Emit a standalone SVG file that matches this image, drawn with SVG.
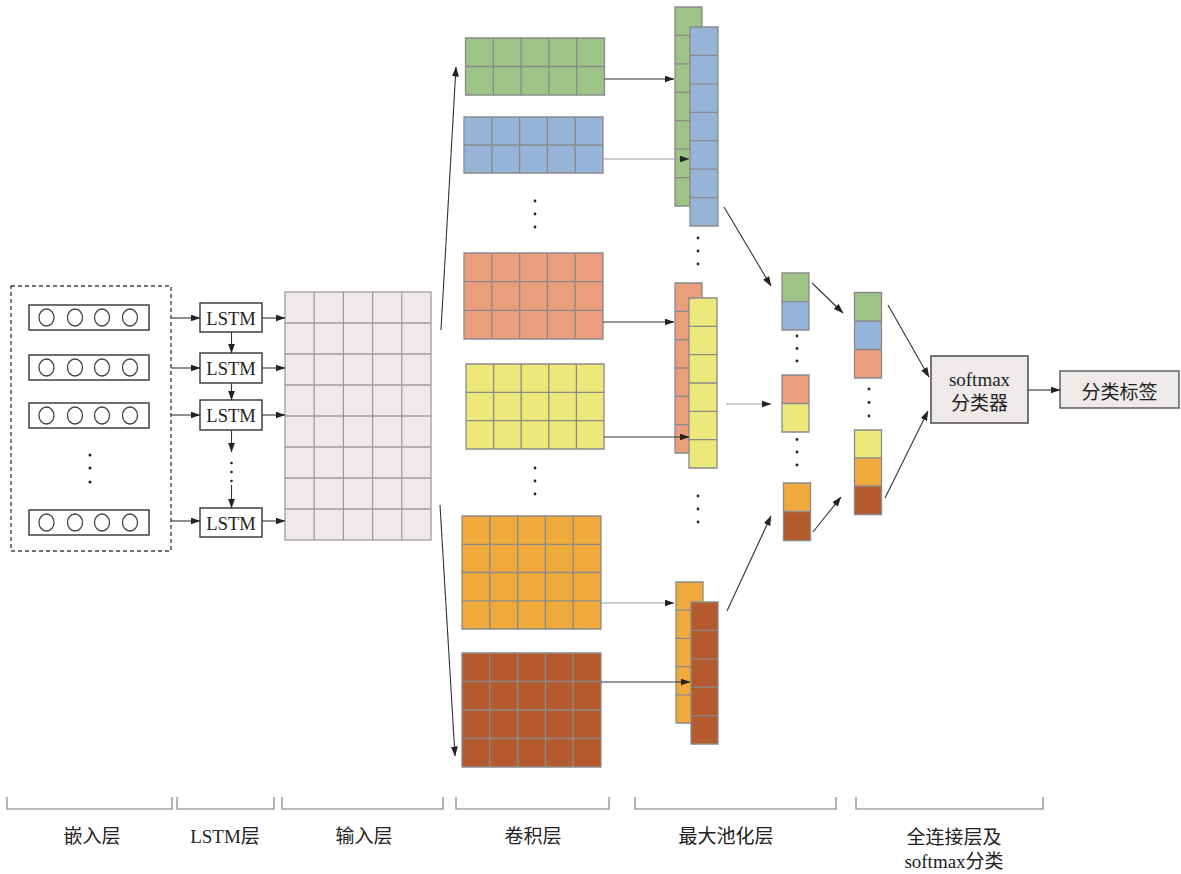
<svg xmlns="http://www.w3.org/2000/svg" width="1181" height="874" viewBox="0 0 1181 874">
<defs>
<marker id="ah" markerUnits="userSpaceOnUse" markerWidth="10" markerHeight="8" refX="9.5" refY="3.5" orient="auto">
<path d="M0,0 L10,3.5 L0,7 z" fill="#222"/>
</marker>
<style>
.t{font-family:"Liberation Serif","Noto Sans CJK SC",serif;fill:#222}
.box{fill:#fff;stroke:#333;stroke-width:1.4}
.circ{fill:#fff;stroke:#444;stroke-width:1.3}
.cl{stroke:#8a8a8a;stroke-width:1.3;fill:none}
.ar{stroke:#333;stroke-width:1.1;fill:none;marker-end:url(#ah)}
.arl{stroke:#999;stroke-width:1.1;fill:none;marker-end:url(#ah)}
.dot{fill:#222}
.g{fill:#9dc386}.b{fill:#95b4d8}.s{fill:#eb9e7c}.y{fill:#ece87a}.o{fill:#f0aa3b}.r{fill:#b55a2c}
.in{fill:#efe9ea;stroke:#a39b9b;stroke-width:1.3}
.brk{stroke:#777;stroke-width:1.1;fill:none}
</style>
</defs>
<rect width="1181" height="874" fill="#fff"/>

<g id="embedding">
<rect x="11" y="286" width="160" height="265" fill="none" stroke="#444" stroke-width="1.4" stroke-dasharray="4,3"/>
<rect class="box" x="29" y="305" width="120" height="25"/>
<ellipse class="circ" cx="46.5" cy="317.5" rx="7.5" ry="8.5"/><ellipse class="circ" cx="75" cy="317.5" rx="7.5" ry="8.5"/><ellipse class="circ" cx="102" cy="317.5" rx="7.5" ry="8.5"/><ellipse class="circ" cx="130" cy="317.5" rx="7.5" ry="8.5"/>
<rect class="box" x="29" y="355" width="120" height="25"/>
<ellipse class="circ" cx="46.5" cy="367.5" rx="7.5" ry="8.5"/><ellipse class="circ" cx="75" cy="367.5" rx="7.5" ry="8.5"/><ellipse class="circ" cx="102" cy="367.5" rx="7.5" ry="8.5"/><ellipse class="circ" cx="130" cy="367.5" rx="7.5" ry="8.5"/>
<rect class="box" x="29" y="403" width="120" height="25"/>
<ellipse class="circ" cx="46.5" cy="415.5" rx="7.5" ry="8.5"/><ellipse class="circ" cx="75" cy="415.5" rx="7.5" ry="8.5"/><ellipse class="circ" cx="102" cy="415.5" rx="7.5" ry="8.5"/><ellipse class="circ" cx="130" cy="415.5" rx="7.5" ry="8.5"/>
<circle class="dot" cx="90" cy="455" r="1.5"/><circle class="dot" cx="90" cy="468" r="1.5"/><circle class="dot" cx="90" cy="482" r="1.5"/>
<rect class="box" x="29" y="510" width="120" height="25"/>
<ellipse class="circ" cx="46.5" cy="522.5" rx="7.5" ry="8.5"/><ellipse class="circ" cx="75" cy="522.5" rx="7.5" ry="8.5"/><ellipse class="circ" cx="102" cy="522.5" rx="7.5" ry="8.5"/><ellipse class="circ" cx="130" cy="522.5" rx="7.5" ry="8.5"/>
</g>

<g id="lstm">
<rect class="box" x="200" y="303" width="62" height="29"/><text class="t" x="231" y="324.5" font-size="18.5" text-anchor="middle">LSTM</text>
<rect class="box" x="200" y="353" width="62" height="30"/><text class="t" x="231" y="374.5" font-size="18.5" text-anchor="middle">LSTM</text>
<rect class="box" x="200" y="400" width="62" height="30"/><text class="t" x="231" y="421.5" font-size="18.5" text-anchor="middle">LSTM</text>
<rect class="box" x="200" y="508" width="62" height="29"/><text class="t" x="231" y="529.5" font-size="18.5" text-anchor="middle">LSTM</text>
<circle class="dot" cx="231.5" cy="463" r="1.3"/><circle class="dot" cx="231.5" cy="472" r="1.3"/><circle class="dot" cx="231.5" cy="481" r="1.3"/>
</g>

<g id="input">
<rect class="in" x="285" y="292" width="146" height="248"/>
<path class="in" fill="none" d="M314.2,292V540M343.4,292V540M372.6,292V540M401.8,292V540M285,323H431M285,354H431M285,385H431M285,416H431M285,447H431M285,478H431M285,509H431"/>
</g>

<g id="conv">
<rect class="g" x="465.5" y="38" width="139" height="57"/>
<path class="cl" d="M465.5,38h139v57h-139zM493.3,38V95M521.1,38V95M548.9,38V95M576.7,38V95M465.5,66.5H604.5"/>
<rect class="b" x="464" y="117" width="139" height="56"/>
<path class="cl" d="M464,117h139v56h-139zM491.8,117V173M519.6,117V173M547.4,117V173M575.2,117V173M464,145H603"/>
<circle class="dot" cx="535" cy="201" r="1.4"/><circle class="dot" cx="535" cy="214" r="1.4"/><circle class="dot" cx="535" cy="227" r="1.4"/>
<rect class="s" x="464" y="253" width="139" height="86"/>
<path class="cl" d="M464,253h139v86h-139zM491.8,253V339M519.6,253V339M547.4,253V339M575.2,253V339M464,281.7H603M464,310.3H603"/>
<rect class="y" x="466" y="364" width="138" height="85"/>
<path class="cl" d="M466,364h138v85h-138zM493.6,364V449M521.2,364V449M548.8,364V449M576.4,364V449M466,392.3H604M466,420.7H604"/>
<circle class="dot" cx="535" cy="468" r="1.4"/><circle class="dot" cx="535" cy="481" r="1.4"/><circle class="dot" cx="535" cy="494" r="1.4"/>
<rect class="o" x="462" y="516" width="139" height="113"/>
<path class="cl" d="M462,516h139v113h-139zM489.8,516V629M517.6,516V629M545.4,516V629M573.2,516V629M462,544.3H601M462,572.5H601M462,600.8H601"/>
<rect class="r" x="462" y="653" width="139" height="114"/>
<path class="cl" d="M462,653h139v114h-139zM489.8,653V767M517.6,653V767M545.4,653V767M573.2,653V767M462,681.5H601M462,710H601M462,738.5H601"/>
</g>

<g id="pooling">
<rect class="g" x="675" y="7" width="27" height="199"/>
<path class="cl" d="M675,7h27v199h-27zM675,35.4h27M675,63.9h27M675,92.3h27M675,120.7h27M675,149.1h27M675,177.6h27"/>
<rect class="b" x="690" y="27" width="28" height="199"/>
<path class="cl" d="M690,27h28v199h-28zM690,55.4h28M690,83.9h28M690,112.3h28M690,140.7h28M690,169.1h28M690,197.6h28"/>
<circle class="dot" cx="698" cy="238" r="1.4"/><circle class="dot" cx="698" cy="251" r="1.4"/><circle class="dot" cx="698" cy="264" r="1.4"/>
<rect class="s" x="675" y="283" width="27" height="170"/>
<path class="cl" d="M675,283h27v170h-27zM675,311.3h27M675,339.7h27M675,368h27M675,396.3h27M675,424.7h27"/>
<rect class="y" x="689" y="298" width="28" height="170"/>
<path class="cl" d="M689,298h28v170h-28zM689,326.3h28M689,354.7h28M689,383h28M689,411.3h28M689,439.7h28"/>
<circle class="dot" cx="698" cy="496" r="1.4"/><circle class="dot" cx="698" cy="509" r="1.4"/><circle class="dot" cx="698" cy="522" r="1.4"/>
<rect class="o" x="676" y="582" width="27" height="141"/>
<path class="cl" d="M676,582h27v141h-27zM676,610.2h27M676,638.4h27M676,666.6h27M676,694.8h27"/>
<rect class="r" x="691" y="602" width="27" height="142"/>
<path class="cl" d="M691,602h27v142h-27zM691,630.4h27M691,658.8h27M691,687.2h27M691,715.6h27"/>
</g>

<g id="pooled">
<rect class="g" x="782" y="273" width="27" height="28.5"/><rect class="b" x="782" y="301.5" width="27" height="28.5"/>
<path class="cl" d="M782,273h27v57h-27zM782,301.5h27"/>
<circle class="dot" cx="797" cy="336" r="1.4"/><circle class="dot" cx="797" cy="348.5" r="1.4"/><circle class="dot" cx="797" cy="361" r="1.4"/>
<rect class="s" x="782" y="375" width="27" height="28.5"/><rect class="y" x="782" y="403.5" width="27" height="28.5"/>
<path class="cl" d="M782,375h27v57h-27zM782,403.5h27"/>
<circle class="dot" cx="797" cy="439.5" r="1.4"/><circle class="dot" cx="797" cy="452" r="1.4"/><circle class="dot" cx="797" cy="465" r="1.4"/>
<rect class="o" x="783.5" y="483" width="27" height="28.5"/><rect class="r" x="783.5" y="511.5" width="27" height="29"/>
<path class="cl" d="M783.5,483h27v57.5h-27zM783.5,511.5h27"/>
</g>

<g id="fc">
<rect class="g" x="854.5" y="292.5" width="27" height="28.5"/><rect class="b" x="854.5" y="321" width="27" height="28.5"/><rect class="s" x="854.5" y="349.5" width="27" height="28.5"/>
<path class="cl" d="M854.5,292.5h27v85.5h-27zM854.5,321h27M854.5,349.5h27"/>
<circle class="dot" cx="869" cy="389" r="1.4"/><circle class="dot" cx="869" cy="402.5" r="1.4"/><circle class="dot" cx="869" cy="416" r="1.4"/>
<rect class="y" x="854.5" y="430" width="27" height="28"/><rect class="o" x="854.5" y="458" width="27" height="28"/><rect class="r" x="854.5" y="486" width="27" height="28.5"/>
<path class="cl" d="M854.5,430h27v84.5h-27zM854.5,458h27M854.5,486h27"/>
</g>

<g id="softmax">
<rect x="931" y="356" width="97" height="67" fill="#efeaea" stroke="#555" stroke-width="1.6"/>
<text class="t" x="979.5" y="386" font-size="19" text-anchor="middle">softmax</text>
<text class="t" x="979.5" y="410" font-size="19" text-anchor="middle">分类器</text>
</g>

<g id="label">
<rect x="1060" y="371" width="119" height="37" fill="#efeaea" stroke="#555" stroke-width="1.4"/>
<text class="t" x="1119.5" y="399" font-size="19" text-anchor="middle">分类标签</text>
</g>

<g id="connectors">
<path class="ar" d="M171,318H200"/><path class="ar" d="M171,368H200"/><path class="ar" d="M171,415H200"/><path class="ar" d="M171,521H200"/>
<path class="ar" d="M231.5,332V353"/><path class="ar" d="M231.5,383V400"/><path class="ar" d="M231.5,430V452"/><path class="ar" d="M231.5,485V508"/>
<path class="ar" d="M262,318H285"/><path class="ar" d="M262,368H285"/><path class="ar" d="M262,415H285"/><path class="ar" d="M262,521H285"/>
<path class="ar" d="M441,330L456,67"/>
<path class="ar" d="M440,505L455,756"/>
<path class="ar" d="M604.5,79H674"/>
<path class="arl" d="M603,159H689"/>
<path class="ar" d="M603,322H674"/>
<path class="ar" d="M604,437H689"/>
<path class="arl" d="M601,603H674"/>
<path class="ar" d="M601,682H690"/>
<path class="ar" d="M724,207L771,286"/>
<path class="arl" d="M726,404H771"/>
<path class="ar" d="M727,611L771,516"/>
<path class="ar" d="M812,283L843,313"/>
<path class="ar" d="M813,532L841,497"/>
<path class="ar" d="M888,305L929,377"/>
<path class="ar" d="M885,498L928,411"/>
<path class="ar" d="M1028,390H1060"/>
</g>

<g id="brackets">
<path class="brk" d="M7,797V809H172V797M177,797V809H274V797M282,797V809H443V797M456,797V809H609V797M635,797V809H836V797M856,797V809H1043V797"/>
<text class="t" x="92" y="843" font-size="19" text-anchor="middle">嵌入层</text>
<text class="t" x="225" y="843" font-size="19" text-anchor="middle">LSTM层</text>
<text class="t" x="364" y="843" font-size="19" text-anchor="middle">输入层</text>
<text class="t" x="533" y="843" font-size="19" text-anchor="middle">卷积层</text>
<text class="t" x="726" y="843" font-size="19" text-anchor="middle">最大池化层</text>
<text class="t" x="954" y="844" font-size="19" text-anchor="middle">全连接层及</text>
<text class="t" x="954" y="868" font-size="19" text-anchor="middle">softmax分类</text>
</g>
</svg>
